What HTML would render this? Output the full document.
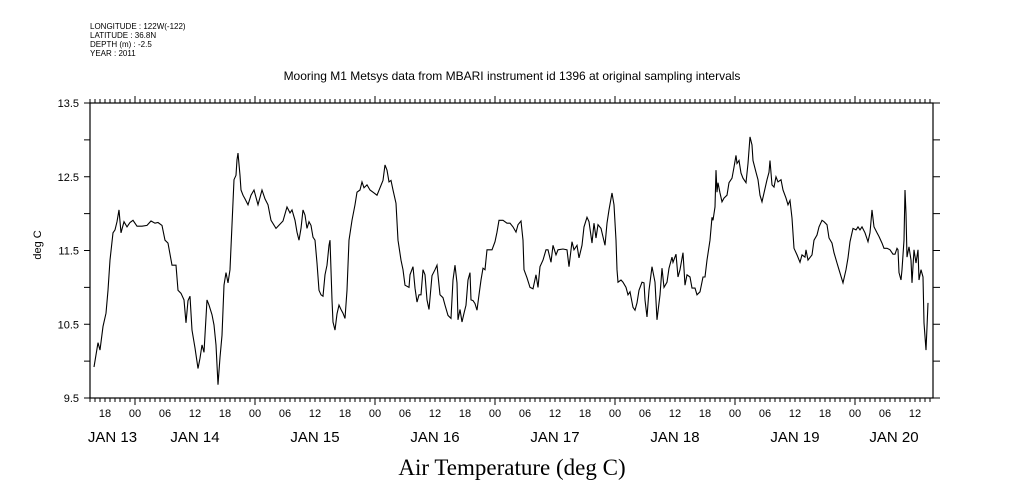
<!DOCTYPE html>
<html><head><meta charset="utf-8"><style>
body{margin:0;background:#fff;}
svg{display:block;font-family:"Liberation Sans",sans-serif;}
</style></head><body>
<svg id="chart" width="1009" height="504" viewBox="0 0 1009 504" xmlns="http://www.w3.org/2000/svg">
<g font-size="8" fill="#000">
<text x="90" y="29">LONGITUDE : 122W(-122)</text>
<text x="90" y="38">LATITUDE : 36.8N</text>
<text x="90" y="47">DEPTH (m) : -2.5</text>
<text x="90" y="56">YEAR : 2011</text>
</g>
<text x="512" y="80" text-anchor="middle" font-size="12">Mooring M1 Metsys data from MBARI instrument id 1396 at original sampling intervals</text>
<text transform="translate(41,245) rotate(-90)" text-anchor="middle" font-size="11">deg C</text>
<text x="512" y="475" text-anchor="middle" font-size="23" font-family="Liberation Serif, serif">Air Temperature (deg C)</text>
<g id="axes"></g>
<g id="series"></g>
</svg>
<script>
const hours=[-8.2,-7.4,-7,-6.4,-5.8,-5.4,-5,-4.4,-4,-3.6,-3.2,-2.8,-2.2,-1.6,-1,-0.4,0.4,1.4,2.4,3.2,4,4.6,5.4,6,6.6,7.4,8.2,8.6,9.2,9.8,10.2,10.6,11,11.4,12,12.6,13,13.4,13.8,14.4,14.8,15.4,15.8,16.2,16.6,17,17.4,17.8,18.2,18.6,19,19.4,19.8,20.2,20.4,20.6,21,21.2,21.6,22,22.6,23.2,23.8,24.6,25.4,26,26.6,27.2,28.2,
29.6,30.4,31,31.4,32,32.4,32.8,33.2,33.6,34,34.4,34.8,35.2,35.6,36,36.4,36.8,37.2,37.6,38,38.4,38.8,39,39.4,39.6,40,40.4,40.8,41.2,41.6,42,42.4,42.8,43.4,44,44.4,45,45.4,45.8,46.4,47,47.6,48.4,49,49.6,50,50.4,50.8,51.2,51.6,52.2,52.6,53.2,53.6,54,54.8,55,55.6,56,56.4,56.8,57.2,57.6,58,58.4,58.8,59.4,60,60.4,61,61.6,62,62.6,63.2,63.6,64,64.4,64.6,65,65.4,65.8,66.2,66.6,67,67.2,67.6,68,68.4,68.8,69.2,69.6,70,70.4,
71.4,72,72.4,72.8,73.6,74.4,75,75.6,76.2,76.6,77.2,77.6,77.8,78.4,79,79.6,80.2,80.6,81,81.6,82.2,82.6,83.2,83.6,84.2,84.6,85.6,86.4,86.8,87.4,87.8,88.4,88.8,89.4,89.8,90.4,90.8,91.4,91.8,92.2,92.6,93.2,94,94.4,94.8,95.4,95.8,96.2,96.4,96.6,97.2,97.6,98.2,98.6,99,99.6,100,100.4,100.8,101.4,101.8,102,102.4,102.8,103.4,104,104.4,105,105.4,105.8,106.4,106.8,107.4,107.6,108.2,108.6,109,109.6,110,110.4,111,111.4,112,112.4,
113,113.6,114,114.4,115,115.4,115.6,116,116.2,116.4,116.6,117,117.4,117.8,118.4,118.8,119.4,119.8,120.2,120.4,120.8,121.2,121.6,122.2,122.6,123,123.4,123.6,124.2,124.6,125,125.4,125.8,126.4,126.8,127,127.4,127.8,128.2,128.6,129.2,129.6,130.2,130.6,131,131.4,131.8,132.4,133,133.4,134,134.2,134.6,135.4,135.8,136.4,136.8,137.4,137.8,138.4,138.8,139.4,139.8,140.4,140.8,141.6,142.2,142.6,143,143.6,144.2,144.6,145,145.4,146,146.6,147,147.4,147.8,148.4,148.8,149.4,149.8,150.4,151,151.6,152,152.4,152.6,152.8,153.2,153.4,153.8,154,154.2,154.4,154.8,155.2,155.4,155.8,156.2,156.6,156.8,157.2,157.6,157.8,158.2,158.4,158.6];
const temps=[9.92,10.25,10.15,10.47,10.65,10.96,11.37,11.74,11.78,11.89,12.05,11.74,11.89,11.82,11.88,11.91,11.83,11.83,11.84,11.9,11.87,11.88,11.84,11.64,11.6,11.3,11.3,10.96,10.92,10.83,10.52,10.82,10.88,10.42,10.18,9.9,10.04,10.22,10.12,10.83,10.76,10.63,10.49,10.22,9.68,10.05,10.35,11.03,11.2,11.06,11.24,11.85,12.46,12.52,12.73,12.82,12.52,12.32,12.25,12.2,12.12,12.25,12.32,12.12,12.32,12.2,12.12,11.91,11.8,
11.9,12.09,12.01,12.05,11.91,11.75,11.64,11.8,12.05,11.98,11.8,11.89,11.84,11.68,11.64,11.33,10.96,10.9,10.88,11.17,11.3,11.57,11.64,10.83,10.53,10.42,10.64,10.76,10.7,10.65,10.58,10.96,11.64,11.91,12.12,12.29,12.32,12.43,12.35,12.39,12.32,12.29,12.25,12.35,12.45,12.66,12.59,12.43,12.45,12.32,12.14,11.64,11.37,11.24,11.03,11.0,11.17,11.28,10.99,10.8,10.9,10.9,11.24,11.17,10.83,10.7,11.16,11.24,11.3,10.9,10.86,10.76,10.62,10.58,11.1,11.3,11.06,10.56,10.7,10.53,10.65,10.76,11.1,11.2,10.83,10.82,10.78,10.69,10.9,11.1,11.26,11.24,11.51,
11.51,11.62,11.75,11.91,11.91,11.87,11.87,11.82,11.75,11.85,11.9,11.64,11.24,11.13,11.0,10.98,11.17,11.0,11.28,11.37,11.51,11.51,11.34,11.57,11.44,11.51,11.52,11.51,11.28,11.62,11.51,11.57,11.4,11.57,11.82,11.95,11.89,11.6,11.87,11.67,11.85,11.8,11.57,11.87,12.05,12.28,12.12,11.64,11.24,11.07,11.1,11.07,11.0,10.9,10.94,10.73,10.69,10.79,10.96,11.07,11.06,10.83,10.6,10.96,11.28,11.07,10.56,10.9,11.26,11.0,11.07,11.26,11.41,11.34,11.45,11.14,11.24,11.47,11.03,11.17,11.14,10.99,10.99,10.9,
10.94,11.14,11.14,11.37,11.64,11.95,11.91,12.09,12.59,12.29,12.42,12.28,12.16,12.21,12.25,12.42,12.48,12.63,12.79,12.68,12.72,12.55,12.48,12.42,12.68,13.04,12.93,12.72,12.56,12.46,12.25,12.16,12.28,12.46,12.56,12.72,12.39,12.36,12.5,12.43,12.46,12.32,12.21,12.12,12.18,11.94,11.53,11.44,11.34,11.44,11.41,11.51,11.37,11.44,11.64,11.71,11.82,11.91,11.89,11.85,11.67,11.6,11.47,11.33,11.24,11.06,11.24,11.4,11.62,11.8,11.78,11.82,11.78,11.82,11.74,11.62,11.74,12.05,11.82,11.74,11.69,11.6,11.53,11.53,11.51,11.45,11.45,11.53,11.51,11.2,11.1,11.24,11.64,12.32,12.0,11.41,11.55,11.37,11.06,11.51,11.33,11.51,11.1,11.24,11.14,10.52,10.15,10.46,10.79];
const yTicks=[13.5,12.5,11.5,10.5,9.5];
const dayLabels=["JAN 13","JAN 14","JAN 15","JAN 16","JAN 17","JAN 18","JAN 19","JAN 20"];
const hourLabels=["18","00","06","12"];

const NS="http://www.w3.org/2000/svg";
const X0=90,X1=933,Y0=103,Y1=398;
const H0=-9,H1=159.6; // hours relative to JAN 14 00
const xs=h=>X0+(h-H0)/(H1-H0)*(X1-X0);
const ys=v=>Y0+(13.5-v)/(13.5-9.5)*(Y1-Y0);
function mk(tag,attrs,parent){const e=document.createElementNS(NS,tag);for(const k in attrs)e.setAttribute(k,attrs[k]);parent.appendChild(e);return e;}
const axes=document.getElementById('axes');
const frame=mk('rect',{x:X0,y:Y0,width:X1-X0,height:Y1-Y0,fill:'none',stroke:'#000','stroke-width':1.2},axes);


// y ticks every 0.5
for(let v=9.5;v<=13.5001;v+=0.5){
  const y=ys(v);
  const tl=mk('line',{x1:X0-6,x2:X0,y1:y,y2:y,stroke:'#000'},axes);
  
  
  const tr=mk('line',{x1:X1,x2:X1+7,y1:y,y2:y,stroke:'#000'},axes);
  
  
}
yTicks.forEach(v=>{
  const t=mk('text',{x:X0-11,y:ys(v)+4,'text-anchor':'end','font-size':11},axes);
  t.textContent=v.toFixed(1);
  
  
});
// hourly ticks
for(let h=Math.ceil(H0);h<=H1;h++){
  const x=xs(h);const major=((h%24)+24)%24===0;
  const len=major?7:4;
  const b=mk('line',{x1:x,x2:x,y1:Y1,y2:Y1+len,stroke:'#000'},axes);
  
  
  const t=mk('line',{x1:x,x2:x,y1:Y0,y2:Y0-len,stroke:'#000'},axes);
  
  
  if(h%6===0){
    const idx=((h/6)%4+4)%4; // 0->00,1->06,2->12,3->18
    const lab=["00","06","12","18"][idx];
    const tx=mk('text',{x:x,y:Y1+19,'text-anchor':'middle','font-size':11},axes);
    tx.textContent=lab;
    
    
  }
}
// day labels centered on visible portion of each day
dayLabels.forEach((d,i)=>{
  const a=Math.max(H0,(i-1)*24),b=Math.min(H1,i*24);
  const t=mk('text',{x:(xs(a)+xs(b))/2,y:Y1+44,'text-anchor':'middle','font-size':15},axes);
  t.textContent=d;
  
  
});
const pts=hours.map((h,i)=>xs(h).toFixed(1)+','+ys(temps[i]).toFixed(1)).join(' ');
const line=mk('polyline',{points:pts,fill:'none',stroke:'#000','stroke-width':1.1,'stroke-linejoin':'miter'},document.getElementById('series'));


</script>
</body></html>
